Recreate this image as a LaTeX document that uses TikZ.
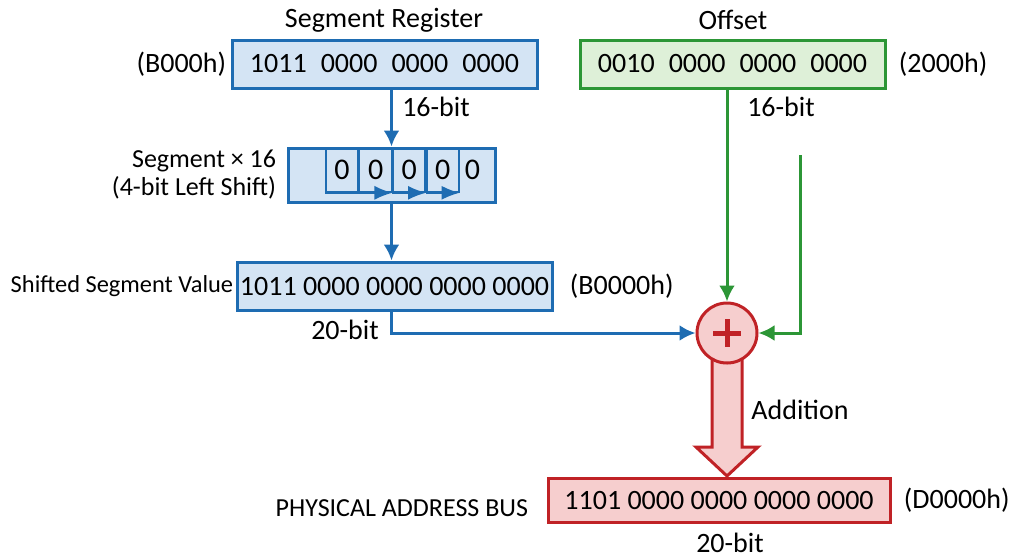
\documentclass[tikz,border=0pt]{standalone}
\usepackage{fontspec}
\setmainfont{Carlito}
\usepackage{tikz}
\usetikzlibrary{shapes,arrows,arrows.meta,positioning}
\definecolor{RegBlue}{RGB}{30,108,178}
\definecolor{RegBlueFill}{RGB}{212,228,244}
\definecolor{OffGreen}{RGB}{44,150,54}
\definecolor{OffGreenFill}{RGB}{222,240,216}
\definecolor{SumRed}{RGB}{192,34,38}
\definecolor{SumRedFill}{RGB}{246,206,206}

\begin{document}
\begin{tikzpicture}[x=0.5pt,y=-0.5pt,>={Latex[length=8pt,width=8pt]},
    reg/.style={rectangle,draw,line width=1.5pt,inner sep=0pt,font=\fontsize{14}{16}\selectfont},
    lbl/.style={inner sep=0pt,font=\fontsize{14}{15}\selectfont},
    cell/.style={rectangle,draw=RegBlue,line width=0.8pt,minimum width=16pt,minimum height=22pt,inner sep=0pt,font=\fontsize{15}{16}\selectfont}]
    \useasboundingbox (0,0) rectangle (1024,559);

    % registers
    \node[reg,draw=RegBlue,fill=RegBlueFill,minimum width=152.5pt,minimum height=24pt] (segreg) at (384.5,64) {1011\enspace 0000\enspace 0000\enspace 0000};
    \node[reg,draw=OffGreen,fill=OffGreenFill,minimum width=152.5pt,minimum height=24pt] (offreg) at (732.5,64) {0010\enspace 0000\enspace 0000\enspace 0000};
    \node[reg,draw=RegBlue,fill=RegBlueFill,minimum width=103.5pt,minimum height=27pt] (shiftbox) at (391.5,175) {};
    \node[reg,draw=RegBlue,fill=RegBlueFill,minimum width=157.5pt,minimum height=24pt] (shifted) at (394.5,286) {1011 0000 0000 0000 0000};
    \node[reg,draw=SumRed,fill=SumRedFill,minimum width=171pt,minimum height=22pt] (result) at (719,500) {1101 0000 0000 0000 0000};

    % shift cells
    \node[cell] (c1) at (342,170) {0};
    \node[cell,right=0pt of c1] (c2) {0};
    \node[cell,right=0pt of c2] (c3) {0};
    \node[cell,right=0pt of c3] (c4) {0};
    \node[cell,draw=none,right=0pt of c4,xshift=-2pt] (c5) {0};
    \draw[-{Latex[length=9pt,width=7pt]},RegBlue,line width=0.8pt] (c1.south west) -- (c2.south east);
    \draw[-{Latex[length=9pt,width=7pt]},RegBlue,line width=0.8pt] (c2.south east) -- (c3.south east);
    \draw[-{Latex[length=9pt,width=7pt]},RegBlue,line width=0.8pt] (c3.south east) -- (c4.south east);

    % labels
    \node[lbl] (segtitle) at (384,20) {Segment Register};
    \node[lbl] (offtitle) at (733,20) {Offset};
    \node[lbl,left=2pt of segreg] (seghex) {(B000h)};
    \node[lbl,right=6pt of offreg] (offhex) {(2000h)};
    \node[lbl] (segbits) at (436,107) {16-bit};
    \node[lbl] (offbits) at (781,107) {16-bit};
    \node[lbl,font=\fontsize{13}{14}\selectfont,align=right,left=5pt of shiftbox] (shiftlbl) {Segment × 16\\(4-bit Left Shift)};
    \node[lbl,font=\fontsize{12.2}{14}\selectfont,left=1pt of shifted] (shiftedlbl) {Shifted Segment Value};
    \node[lbl,right=8pt of shifted] (shiftedhex) {(B0000h)};
    \node[lbl] (shiftedbits) at (345,330) {20-bit};
    \node[lbl,font=\fontsize{13}{14}\selectfont,left=9pt of result,yshift=-4pt] (resultlbl) {PHYSICAL ADDRESS BUS};
    \node[lbl,right=6pt of result] (resulthex) {(D0000h)};
    \node[lbl] (resultbits) at (730,543) {20-bit};
    \node[lbl] (addlbl) at (800,410) {Addition};

    % adder
    \coordinate (sumc) at (727,333);
    \draw[SumRed,fill=SumRedFill,line width=1.5pt] (712,350) -- (712,447) -- (696,447) -- (727,476) -- (758,447) -- (742,447) -- (742,350);
    \node[circle,draw=SumRed,fill=SumRedFill,line width=1.5pt,minimum size=30pt,inner sep=0pt] (plus) at (sumc) {};
    \draw[SumRed,line width=2.5pt] (plus.center) ++(-14,0) -- ++(28,0);
    \draw[SumRed,line width=2.5pt] (plus.center) ++(0,-14) -- ++(0,28);

    % connectors
    \coordinate (gstart) at (800,155);
    \draw[->,line width=1.5pt,color=RegBlue] (shiftbox.north |- segreg.south) -- (shiftbox.north);
    \draw[->,line width=1.5pt,color=RegBlue] (shiftbox.south) -- (shiftbox.south |- shifted.north);
    \draw[->,line width=1.5pt,color=RegBlue] (shiftbox.south |- shifted.south) |- (plus.west);
    \draw[->,line width=1.5pt,color=OffGreen] (plus.north |- offreg.south) -- (plus.north);
    \draw[->,line width=1.5pt,color=OffGreen] (gstart) |- (plus.east);
\end{tikzpicture}
\end{document}
